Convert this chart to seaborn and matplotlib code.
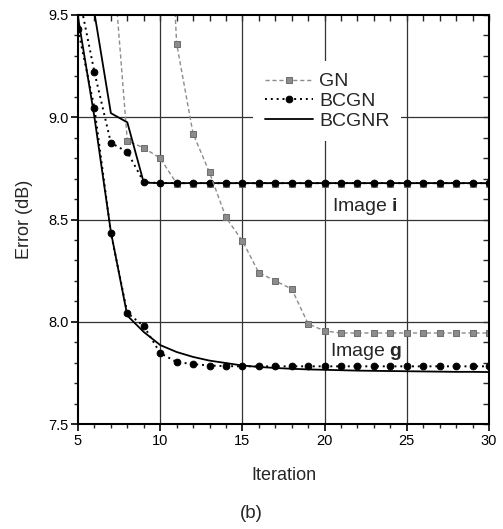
import numpy as np
import pandas as pd
import matplotlib
matplotlib.use("Agg")
import matplotlib.pyplot as plt
import seaborn as sns
from matplotlib.ticker import MultipleLocator

# ---------------- data ----------------
it_gn_i = [7, 8, 9, 10] + list(range(11, 31))
gn_i = [9.90, 8.885, 8.85, 8.80] + [8.676] * 20

it_gn_g = list(range(10, 31))
gn_g = [11.0, 9.36, 8.92, 8.73, 8.51, 8.395, 8.24, 8.20, 8.16, 7.99, 7.955] + [7.945] * 10

it_all = list(range(5, 31))
bcgn_i = [9.62, 9.22, 8.875, 8.83, 8.683] + [8.678] * 21
bcgnr_i = [10.0, 9.51, 9.02, 8.975, 8.68] + [8.678] * 21

bcgn_g = [9.43, 9.045, 8.434, 8.043, 7.979, 7.847, 7.803, 7.793, 7.786, 7.783] + [7.782] * 16
bcgnr_g = [9.49, 9.00, 8.44, 8.03, 7.95, 7.886, 7.852, 7.828, 7.81, 7.798, 7.786,
           7.779, 7.774, 7.770, 7.767, 7.765, 7.763, 7.761, 7.760, 7.759, 7.758,
           7.757, 7.756, 7.755, 7.755, 7.754]

labels = ["GN", "BCGN", "BCGNR"]
x_ticks = [5, 10, 15, 20, 25, 30]
y_ticks = [7.5, 8.0, 8.5, 9.0, 9.5]

# ---------------- style ----------------
sns.set_theme(style="white")
plt.rcParams["font.family"] = ["Liberation Sans", "DejaVu Sans"]
plt.rcParams["mathtext.fontset"] = "custom"
plt.rcParams["mathtext.rm"] = "Liberation Sans"
plt.rcParams["mathtext.bf"] = "Liberation Sans:bold"

fig = plt.figure(figsize=(5.03, 5.29), dpi=100)
ax = fig.add_axes([78 / 503, 1 - 424 / 529, (489 - 78) / 503, (424 - 15) / 529])

gray = "#8c8c8c"
gn_kw = dict(color=gray, linestyle=(0, (3, 2)), linewidth=1.0, marker="s",
             markersize=4.0, markerfacecolor=gray, markeredgecolor="#707070")
bcgn_kw = dict(color="black", linestyle=(0, (1, 2)), linewidth=1.4, marker="o",
               markersize=4.8, markerfacecolor="black", markeredgecolor="black")
bcgnr_kw = dict(color="black", linestyle="-", linewidth=1.3)

# grid
for gx in [10, 15, 20, 25]:
    ax.axvline(gx, color="#333333", lw=0.9, zorder=0.5)
for gy in [8.0, 8.5, 9.0]:
    ax.axhline(gy, color="#333333", lw=0.9, zorder=0.5)

sns.lineplot(x=it_gn_i, y=gn_i, ax=ax, label=labels[0], **gn_kw)
sns.lineplot(x=it_all, y=bcgn_i, ax=ax, label=labels[1], **bcgn_kw)
sns.lineplot(x=it_all, y=bcgnr_i, ax=ax, label=labels[2], **bcgnr_kw)
sns.lineplot(x=it_gn_g, y=gn_g, ax=ax, legend=False, **gn_kw)
sns.lineplot(x=it_all, y=bcgn_g, ax=ax, legend=False, **bcgn_kw)
sns.lineplot(x=it_all, y=bcgnr_g, ax=ax, legend=False, **bcgnr_kw)

ax.set_xlim(5, 30)
ax.set_ylim(7.5, 9.5)
ax.set_xticks(x_ticks)
ax.set_yticks(y_ticks)
ax.set_xticklabels([str(v) for v in x_ticks])
ax.set_yticklabels([f"{v:.1f}" for v in y_ticks])
ax.xaxis.set_minor_locator(MultipleLocator(1))
ax.yaxis.set_minor_locator(MultipleLocator(0.1))
ax.tick_params(which="major", direction="out", length=5, width=1.2, labelsize=10.5,
               color="black", labelcolor="black", pad=2, bottom=True, left=True)
ax.tick_params(which="minor", direction="out", length=3, width=1.0, bottom=True, left=True)

for s in ax.spines.values():
    s.set_visible(True)
    s.set_color("black")
    s.set_linewidth(1.5)

# mirrored inward ticks on top / right
secx = ax.secondary_xaxis("top")
secx.set_xticks(x_ticks)
secx.xaxis.set_minor_locator(MultipleLocator(1))
secx.tick_params(which="both", direction="in", length=4, width=1.0, labeltop=False)
secy = ax.secondary_yaxis("right")
secy.set_yticks(y_ticks)
secy.yaxis.set_minor_locator(MultipleLocator(0.1))
secy.tick_params(which="both", direction="in", length=4, width=1.0, labelright=False)

ax.set_xlabel("Iteration", fontsize=13, labelpad=14)
ax.set_ylabel("Error (dB)", fontsize=13, labelpad=11)

leg = ax.legend(loc="upper left", bbox_to_anchor=(0.426, 0.887), frameon=True,
                facecolor="white", edgecolor="none", framealpha=1, fancybox=False,
                fontsize=14, handlelength=2.5, handletextpad=0.3, labelspacing=0.1,
                borderpad=0.6, borderaxespad=0, numpoints=1)

ax.text(20.45, 8.542, r"Image $\mathbf{i}$", fontsize=14, ha="left", va="baseline")
ax.text(20.3, 7.833, r"Image $\mathbf{g}$", fontsize=14, ha="left", va="baseline")

fig.text(0.5, 1 - 513 / 529, "(b)", ha="center", va="center", fontsize=13.5)

fig.savefig("out.png", dpi=100)
